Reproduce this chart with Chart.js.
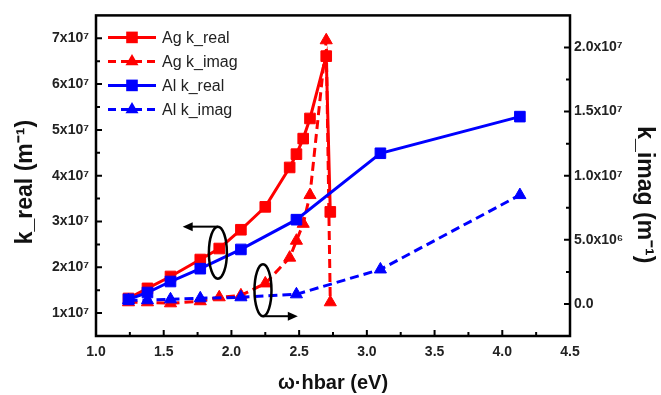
<!DOCTYPE html>
<html><head><meta charset="utf-8">
<script src="https://cdn.jsdelivr.net/npm/chart.js@4.4.0/dist/chart.umd.min.js"></script>
<style>html,body{margin:0;padding:0;background:#fff;overflow:hidden}#wrap{width:661px;height:395px}</style>
</head><body><div id="wrap"><canvas id="c" width="661" height="395"></canvas></div>
<script>
// ---- data ----
const agEnergy = [1.24, 1.38, 1.55, 1.77, 1.91, 2.07, 2.25, 2.43, 2.48, 2.53, 2.58, 2.70, 2.73];
const agKReal  = [1.32e7, 1.54e7, 1.80e7, 2.17e7, 2.41e7, 2.82e7, 3.32e7, 4.18e7, 4.47e7, 4.81e7, 5.25e7, 6.61e7, 3.21e7];
const agKImag  = [0.13e6, 0.13e6, 0.05e6, 0.21e6, 0.52e6, 0.67e6, 1.60e6, 3.61e6, 4.93e6, 6.25e6, 8.49e6, 20.56e6, 0.13e6];
const alEnergy = [1.24, 1.38, 1.55, 1.77, 2.07, 2.48, 3.10, 4.13];
const alKReal  = [1.30e7, 1.45e7, 1.69e7, 1.97e7, 2.39e7, 3.04e7, 4.49e7, 5.29e7];
const alKImag  = [0.29e6, 0.29e6, 0.36e6, 0.44e6, 0.52e6, 0.75e6, 2.69e6, 8.49e6];

const xTicks = [1.0, 1.5, 2.0, 2.5, 3.0, 3.5, 4.0, 4.5];
const leftTicks = [1e7, 2e7, 3e7, 4e7, 5e7, 6e7, 7e7];
const rightTicks = [0, 5e6, 1e7, 1.5e7, 2e7];
const seriesLabels = ['Ag k_real', 'Ag k_imag', 'Al k_real', 'Al k_imag'];

const RED = '#ff0000', BLUE = '#0000ff';
const FONT = "'Liberation Sans', Arial, Helvetica, sans-serif";
const DASH = [9, 5];

function pts(xs, ys) { return xs.map((x, i) => ({x: x, y: ys[i]})); }
function ds(label, xs, ys, color, axis, style, dashed, order) {
  return {
    label: label, data: pts(xs, ys), yAxisID: axis, order: order,
    borderColor: color, backgroundColor: color, borderWidth: 3,
    borderDash: dashed ? DASH : [], tension: 0,
    pointStyle: style, pointRadius: style === 'rect' ? 7.5 : 7,
    pointBackgroundColor: color, pointBorderColor: color, pointBorderWidth: 1,
    pointHoverRadius: 7
  };
}

const datasets = [
  ds(seriesLabels[0], agEnergy, agKReal, RED, 'y', 'rect', false, 3),
  ds(seriesLabels[1], agEnergy, agKImag, RED, 'y2', 'triangle', true, 2),
  ds(seriesLabels[2], alEnergy, alKReal, BLUE, 'y', 'rect', false, 1),
  ds(seriesLabels[3], alEnergy, alKImag, BLUE, 'y2', 'triangle', true, 0)
];

// annotations (ellipse + arrow), placed in data units of x and left axis
const annotations = [
  {cx: 1.90, cy: 2.32e7, rx: 9, ry: 26, side: 'top', tip: 1.64},
  {cx: 2.233, cy: 1.50e7, rx: 8.5, ry: 26, side: 'bottom', tip: 2.49}
];

function drawMarker(ctx, style, x, y, color) {
  ctx.save();
  ctx.fillStyle = color;
  ctx.beginPath();
  if (style === 'rect') {
    const s = 5.8;
    ctx.rect(x - s, y - s, 2 * s, 2 * s);
  } else {
    const r = 7.5;
    ctx.moveTo(x, y - r);
    ctx.lineTo(x + r * 0.866, y + r * 0.5);
    ctx.lineTo(x - r * 0.866, y + r * 0.5);
    ctx.closePath();
  }
  ctx.fill();
  ctx.restore();
}

const deco = {
  id: 'deco',
  afterDatasetsDraw(chart) {
    const ctx = chart.ctx, xs = chart.scales.x, ys = chart.scales.y;
    ctx.save();
    ctx.strokeStyle = '#000'; ctx.fillStyle = '#000';
    annotations.forEach(a => {
      const cx = xs.getPixelForValue(a.cx), cy = ys.getPixelForValue(a.cy);
      ctx.lineWidth = 2.5;
      ctx.beginPath();
      ctx.ellipse(cx, cy, a.rx, a.ry, 0, 0, Math.PI * 2);
      ctx.stroke();
      const ay = a.side === 'top' ? cy - a.ry : cy + a.ry;
      const tx = xs.getPixelForValue(a.tip);
      const dir = tx < cx ? -1 : 1;
      ctx.lineWidth = 2;
      ctx.beginPath();
      ctx.moveTo(cx, ay);
      ctx.lineTo(tx - dir * 8, ay);
      ctx.stroke();
      ctx.beginPath();
      ctx.moveTo(tx, ay);
      ctx.lineTo(tx - dir * 10, ay - 4.5);
      ctx.lineTo(tx - dir * 10, ay + 4.5);
      ctx.closePath();
      ctx.fill();
    });
    ctx.restore();
  },
  afterDraw(chart) {
    const ctx = chart.ctx, A = chart.chartArea;
    const xs = chart.scales.x, yl = chart.scales.y, yr = chart.scales.y2;
    ctx.save();
    // frame
    ctx.strokeStyle = '#000'; ctx.lineWidth = 2.5;
    ctx.strokeRect(A.left, A.top, A.right - A.left, A.bottom - A.top);
    // inward ticks
    ctx.lineWidth = 2;
    ctx.beginPath();
    for (let v = 1.0; v <= 4.5001; v += 0.25) {
      const p = xs.getPixelForValue(v);
      const major = Math.abs(v * 2 - Math.round(v * 2)) < 1e-6;
      ctx.moveTo(p, A.bottom); ctx.lineTo(p, A.bottom - (major ? 6 : 4));
    }
    for (let v = 1e7; v <= 7.0001e7; v += 0.5e7) {
      const p = yl.getPixelForValue(v);
      const major = Math.abs(v / 1e7 - Math.round(v / 1e7)) < 1e-6;
      ctx.moveTo(A.left, p); ctx.lineTo(A.left + (major ? 6 : 4), p);
    }
    for (let v = 0; v <= 2.0001e7; v += 2.5e6) {
      const p = yr.getPixelForValue(v);
      const major = Math.abs(v / 5e6 - Math.round(v / 5e6)) < 1e-6;
      ctx.moveTo(A.right, p); ctx.lineTo(A.right - (major ? 6 : 4), p);
    }
    ctx.stroke();
    // legend
    const styles = [['rect', RED, false], ['triangle', RED, true], ['rect', BLUE, false], ['triangle', BLUE, true]];
    const x0 = A.left + 12;
    styles.forEach((s, i) => {
      const y = A.top + 22 + i * 24;
      ctx.save();
      ctx.strokeStyle = s[1]; ctx.lineWidth = 3;
      ctx.setLineDash(s[2] ? [8, 5] : []);
      ctx.beginPath(); ctx.moveTo(x0, y); ctx.lineTo(x0 + 48, y); ctx.stroke();
      ctx.restore();
      drawMarker(ctx, s[0], x0 + 24, y, s[1]);
      ctx.fillStyle = '#222';
      ctx.font = '16px ' + FONT;
      ctx.textBaseline = 'middle';
      ctx.fillText(seriesLabels[i], x0 + 54, y + 1);
    });
    ctx.restore();
  }
};

function fixTicks(list) { return s => { s.ticks = list.map(v => ({value: v})); }; }
const tickFont = {family: FONT, size: 14, weight: 'bold'};

new Chart(document.getElementById('c'), {
  type: 'line',
  data: {datasets: datasets},
  options: {
    responsive: false, animation: false,
    layout: {padding: {top: 13, left: 0, right: 0, bottom: 0}},
    plugins: {legend: {display: false}, tooltip: {enabled: false}},
    scales: {
      x: {
        type: 'linear', position: 'bottom', min: 1.0, max: 4.5,
        afterBuildTicks: fixTicks(xTicks),
        afterFit: s => { s.height = 59; },
        grid: {display: false, drawTicks: false}, border: {display: false},
        ticks: {font: tickFont, color: '#222', padding: 8, maxRotation: 0, callback: v => v.toFixed(1)},
        title: {display: true, text: 'ω·hbar (eV)', color: '#111',
          font: {family: FONT, size: 20, weight: 'bold'}, padding: {top: 0, bottom: 0}}
      },
      y: {
        type: 'linear', position: 'left', min: 0.5e7, max: 7.5e7,
        afterBuildTicks: fixTicks(leftTicks),
        afterFit: s => { s.width = 96; },
        grid: {display: false, drawTicks: false}, border: {display: false},
        ticks: {font: tickFont, color: '#222', padding: 7, callback: v => (v / 1e7) + 'x10⁷'},
        title: {display: true, text: 'k_real (m⁻¹)  ', color: '#111',
          font: {family: FONT, size: 23, weight: 'bold'}, padding: {top: 12, bottom: 0}}
      },
      y2: {
        type: 'linear', position: 'right', min: -2.5e6, max: 2.25e7,
        afterBuildTicks: fixTicks(rightTicks),
        afterFit: s => { s.width = 91; },
        grid: {display: false, drawTicks: false}, border: {display: false},
        ticks: {font: tickFont, color: '#222', padding: 4,
          callback: v => v === 0 ? '0.0' : (v >= 1e7 ? (v / 1e7).toFixed(1) + 'x10⁷' : (v / 1e6).toFixed(1) + 'x10⁶')},
        title: {display: true, text: '      k_imag (m⁻¹)', color: '#111',
          font: {family: FONT, size: 23, weight: 'bold'}, padding: {top: 3, bottom: 0}}
      }
    }
  },
  plugins: [deco]
});
</script></body></html>
